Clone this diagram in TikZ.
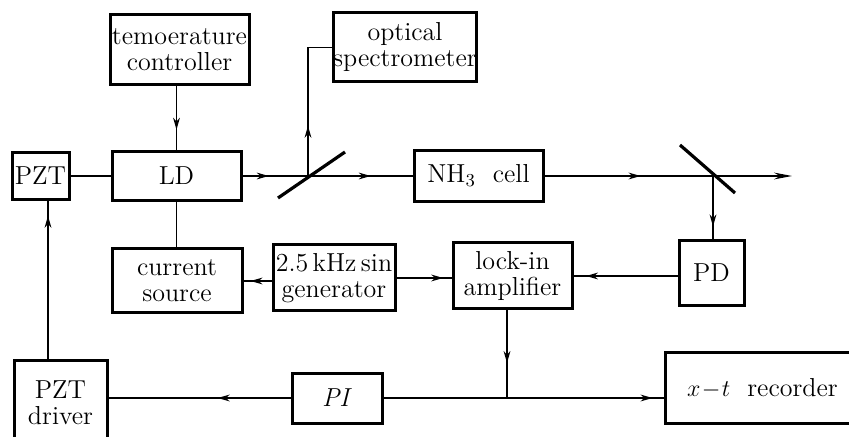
\documentclass[tikz,border=0pt]{standalone}
\usetikzlibrary{arrows.meta,decorations.markings}
\begin{document}
\begin{tikzpicture}[x=0.5pt,y=-0.5pt,
  box/.style={draw,line width=1.5pt,align=center,inner sep=0pt,
    font=\fontsize{13}{13}\selectfont},
  conn/.style={line width=0.75pt},
  midarrow/.style={conn,postaction={decorate},decoration={markings,
    mark=at position #1 with {\arrow{Stealth[length=6pt,width=3.4pt]}}}},
  midarrow/.default=0.5,
  mirror/.style={line width=1.6pt}]
\useasboundingbox (0,0) rectangle (849,437);
\clip (0,0) rectangle (849,437);
% boxes (sizes in pt = half of pixel sizes)
\node[box,minimum width=69.5pt,minimum height=35pt] (temp) at (179.5,50) {temoerature\\controller};
\node[box,minimum width=70pt,minimum height=34.5pt] (spec) at (405,47.5) {optical\\spectrometer};
\node[box,minimum width=28.5pt,minimum height=23.5pt] (pzt) at (40.5,176) {PZT};
\node[box,minimum width=64.5pt,minimum height=24.5pt] (ld) at (176.5,176) {LD};
\node[box,minimum width=64.5pt,minimum height=25.5pt] (nh) at (478.5,176) {NH\textsubscript{3}\ \ cell};
\node[box,minimum width=32.5pt,minimum height=32.5pt] (pd) at (711.5,273) {PD};
\node[box,minimum width=59.5pt,minimum height=33pt] (lock) at (512.5,276) {lock-in\\amplifier};
\node[box,minimum width=65pt,minimum height=32pt] (cur) at (177,281) {current\\source};
\node[box,minimum width=61pt,minimum height=33pt] (sin) at (334,278) {2.5\,kHz\,sin\\generator};
\node[box,minimum width=46.5pt,minimum height=42.5pt] (drv) at (60.5,402.5) {PZT\\driver};
\node[box,minimum width=45pt,minimum height=25pt] (pi) at (337,398) {\textit{PI}};
\node[box,minimum width=97.5pt,minimum height=35pt] (rec) at (762.5,388) {$x\!-\!t$\ \ recorder};
% optical points
\coordinate (m1) at (308,176);
\coordinate (m2) at (713,176);
\coordinate (out) at (792,176);
\coordinate (pz) at (48,200);
\coordinate (j) at (507,398);
\draw[mirror] (278,198) -- (345,152);
\draw[mirror] (680,145) -- (735,193);
% connectors
\draw[midarrow=0.68] (ld.north |- temp.south) -- (ld.north);
\draw[conn] (pzt.east) -- (ld.west);
\draw[midarrow=0.4] (ld.east) -- (m1);
\draw[midarrow=0.6] (m1) -- (nh.west);
\draw[midarrow=0.33] (m1) |- (spec.west);
\draw[midarrow=0.57] (nh.east) -- (m2);
\draw[conn,-{Stealth[length=9pt,width=3.4pt]}] (m2) -- (out);
\draw[midarrow=0.8] (m2) -- (m2 |- pd.north);
\draw[midarrow=0.88] (lock.east -| pd.west) -- (lock.east);
\draw[midarrow=0.75] (cur.east -| sin.west) -- (cur.east);
\draw[midarrow=0.85] (sin.east) -- (sin.east -| lock.west);
\draw[conn] (ld.south) -- (ld.south |- cur.north);
\draw[midarrow=0.9] (pz |- drv.north) -- (pz);
\draw[midarrow=0.4] (pi.west) -- (pi.west -| drv.east);
\draw[conn] (pi.east) -- (j);
\draw[midarrow=0.93] (j) -- (j -| rec.west);
\draw[midarrow=0.6] (lock.south -| j) -- (j);
\end{tikzpicture}
\end{document}
